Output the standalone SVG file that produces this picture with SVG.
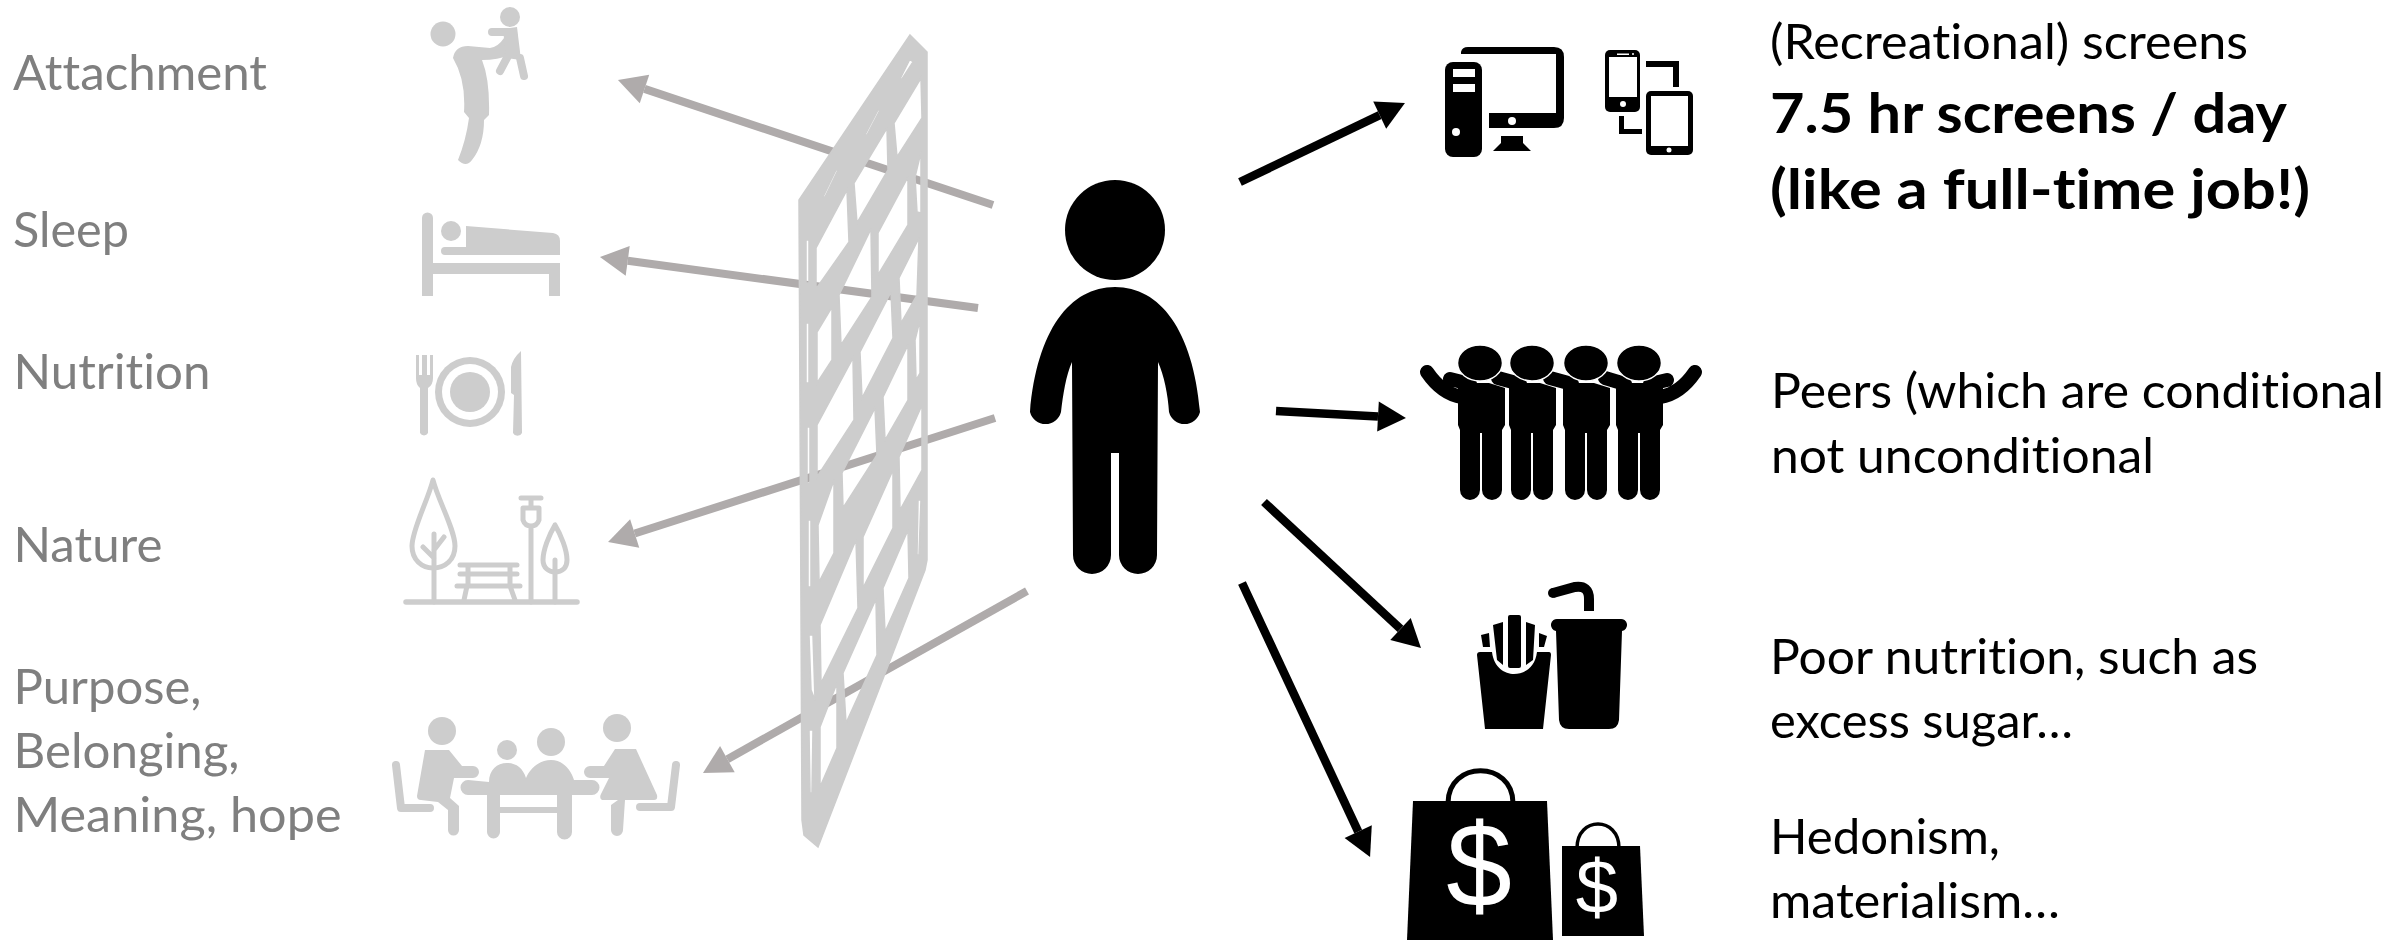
<svg xmlns="http://www.w3.org/2000/svg" xmlns:xlink="http://www.w3.org/1999/xlink" width="2402" height="940" viewBox="0 0 2402 940">
<style>
text{font-family:Lato,"Noto Sans",sans-serif;font-size:47.5px;font-variant-ligatures:none}
.l{fill:#7f7f7f}
.r{fill:#000}
.b{font-weight:700;font-size:54.5px}
.g{fill:#cdcdcd;stroke:none}
.gs{fill:none;stroke:#cdcdcd;stroke-linecap:round;stroke-linejoin:round}
.k{fill:#000;stroke:none}
.w{fill:#fff;stroke:none}
.ga{stroke:#afabab;stroke-width:8;fill:none}
.ba{stroke:#000;stroke-width:8.5;fill:none}
.d{fill:#fff;font-weight:400}
</style>
<defs>
<marker id="ah" markerUnits="userSpaceOnUse" markerWidth="30" markerHeight="32" refX="0" refY="16" orient="auto" overflow="visible"><path d="M0,1L28,16L0,31z" fill="#afabab"/></marker>
<marker id="ak" markerUnits="userSpaceOnUse" markerWidth="30" markerHeight="32" refX="0" refY="16" orient="auto" overflow="visible"><path d="M0,1L28,16L0,31z" fill="#000"/></marker>
<g id="peer">
<path d="M-23,386L-8,383L8,383L24,388L24,425L21,430L21,490A10,10 0 0 1 1,490L1,433L-1,433L-1,490A10,10 0 0 1 -21,490L-21,430L-23,425z"/>
</g>
</defs>
<g id="connectors">
<line class="ga" x1="993" y1="205" x2="644.500" y2="88.900" marker-end="url(#ah)"/>
<line class="ga" x1="978" y1="308" x2="627.700" y2="260.800" marker-end="url(#ah)"/>
<line class="ga" x1="995" y1="418" x2="634.700" y2="533.500" marker-end="url(#ah)"/>
<line class="ga" x1="1027" y1="591" x2="727.400" y2="759.200" marker-end="url(#ah)"/>
<line class="ba" x1="1240" y1="182" x2="1379.700" y2="115.100" marker-end="url(#ak)"/>
<line class="ba" x1="1276" y1="411" x2="1378" y2="416.500" marker-end="url(#ak)"/>
<line class="ba" x1="1264" y1="502" x2="1400.500" y2="628.900" marker-end="url(#ak)"/>
<line class="ba" x1="1242" y1="583" x2="1358.200" y2="831.600" marker-end="url(#ak)"/>
</g>
<g id="wall">
<path fill="#cdcdcd" stroke="#cdcdcd" stroke-width="1.500" fill-rule="evenodd" d="M910,35L927,52L927,560L925,570L818,847L804,835L802,820L799,200z
M910,59L913,62L902,79L900,79z
M921,78L922,118L897,157L894,123z
M865,135L867,135L880,110L878,110z
M823,197L825,197L838,170L836,170z
M887,128L888,170L857,223L854,183z
M921,152L921,213L917,212L915,177z
M908,177L908,225L878,275L878,233z
M847,190L849,242L816,289L816,248z
M871,229L872,297L841,345L839,295z
M919,238L917,295L901,323L899,278z
M806,240L809,240L809,283L806,283z
M920,320L920,373L916,380L915,340z
M891,292L893,338L862,398L860,352z
M908,345L908,400L885,440L883,397z
M806,323L809,323L809,383L806,383z
M817,332L832,307L832,360L817,383z
M853,358L854,420L817,477L817,425z
M875,408L877,455L843,508L842,473z
M922,405L922,470L900,510L899,457z
M807,427L810,427L810,483L807,483z
M834,480L834,553L819,582L818,525z
M918,500L921,500L919,555L917,555z
M893,470L893,528L863,588L863,537z
M808,520L811,520L811,587L808,587z
M908,530L909,578L885,632L883,588z
M856,540L858,608L821,683L820,625z
M876,599L877,655L846,723L843,673z
M809,635L813,635L815,700L811,690z
M837,683L837,748L820,787L820,727z
M809,730L813,730L812,793L810,793z"/>
</g>
<g id="person">
<circle class="k" cx="1115" cy="230" r="50"/>
<path class="k" d="M1115,287C1070,287 1037,330 1030,412A16,16 0 0 0 1061,412C1063,395 1066,375 1072,362L1073,555A19,19 0 0 0 1111,555L1111,453L1119,453L1119,555A19,19 0 0 0 1157,555L1158,362C1164,375 1168,395 1169,412A16,16 0 0 0 1200,412C1193,330 1160,287 1115,287z"/>
</g>
<g id="attachment">
<text class="l" x="13" y="89.500" textLength="254" lengthAdjust="spacingAndGlyphs">Attachment</text>
<circle class="g" cx="443" cy="34" r="12.500"/>
<circle class="g" cx="510" cy="17" r="10"/>
<path class="g" d="M453,58Q455,46 468,46L490,48Q498,47 504,38L512,47L510,55Q498,60 482,60Q490,80 489,115L484,120Q484,145 472,160Q466,168 458,160Q466,140 469,118L464,112Q466,80 453,58z"/>
<path class="g" d="M503,29L517,27L521,60L506,58z"/>
<path class="gs" stroke-width="8" d="M492,32L512,32M508,56L500,71M520,58L524,76"/>
</g>
<g id="sleep">
<text class="l" x="13" y="247" textLength="116" lengthAdjust="spacingAndGlyphs">Sleep</text>
<path class="g" d="M422,218A5.500,5.500 0 0 1 433,218L433,263L549,263L560,263L560,296L549,296L549,274L433,274L433,296L422,296z"/>
<circle class="g" cx="451" cy="231" r="10"/>
<path class="g" d="M466,226L553,233Q560,234 560,241L560,255L445,255A4,4 0 0 1 445,247L466,247z"/>
</g>
<g id="nutrition">
<text class="l" x="13.500" y="388.500" textLength="197" lengthAdjust="spacingAndGlyphs">Nutrition</text>
<path class="g" d="M416,355L419,355L419,375L422,375L422,355L427,355L427,375L430,375L430,355L433,355L433,378Q433,385 428,388L428,433A4.500,4.500 0 0 1 420,433L420,388Q416,385 416,378z"/>
<circle class="g" cx="470" cy="392" r="35"/>
<circle class="w" cx="470" cy="392" r="28"/>
<circle class="g" cx="470" cy="392" r="20"/>
<path class="g" d="M521,351L522,433A5,5 0 0 1 513,433L514,395L511,393L511,367Q513,358 521,351z"/>
</g>
<g id="nature">
<text class="l" x="13.500" y="562" textLength="149" lengthAdjust="spacingAndGlyphs">Nature</text>
<path class="gs" stroke-width="5" d="M433,480C428,500 412,530 412,546C412,560 422,568 433,568C445,568 455,560 455,546C455,530 438,500 433,480z"/>
<path class="gs" stroke-width="5" d="M555,525C549,535 543,550 543,560C543,568 549,572 555,572C562,572 567,568 567,560C567,550 561,535 555,525z"/>
<path class="gs" stroke-width="5" d="M434,534L434,602M444,537L434,550M423,547L434,558M555,560L555,602M531,528L531,602M521,498L541,498M531,498L531,506M523,508L539,508L539,520Q537,526 531,526Q525,526 523,520z"/>
<path class="gs" stroke-width="5" d="M460,565L517,565M460,574L517,574M457,586L520,586M468,565L468,586M510,565L510,586M467,586L464,600M510,586L515,600"/>
<path class="gs" stroke-width="5.500" d="M406,602L577,602"/>
</g>
<g id="belonging">
<text class="l" x="13.500" y="704" textLength="188" lengthAdjust="spacingAndGlyphs">Purpose,</text>
<text class="l" x="13.500" y="768" textLength="226" lengthAdjust="spacingAndGlyphs">Belonging,</text>
<text class="l" x="13.500" y="832" textLength="328" lengthAdjust="spacingAndGlyphs">Meaning, hope</text>
<circle class="g" cx="442" cy="731" r="14"/>
<circle class="g" cx="507" cy="750" r="10"/>
<circle class="g" cx="551" cy="742" r="14"/>
<circle class="g" cx="617" cy="728" r="14"/>
<path class="g" d="M425,750L449,750L462,766L473,766A6,6 0 0 1 473,778L454,778L450,798L459,806L459,830A5.500,5.500 0 0 1 448,830L448,810L438,802L421,800Q417,800 417,796z"/>
<path class="g" d="M615,749L636,749L657,795Q658,800 654,800L625,800L623,830A6,6 0 0 1 611,830L611,805L618,800L602,800Q599,798 601,794L609,778L590,778A6,6 0 0 1 590,766L604,766z"/>
<path class="g" d="M489,782C489,770 497,763 507,763C516,763 523,768 526,778C530,768 540,760 551,760C563,760 571,770 574,780L592,780A7,7 0 0 1 592,795L572,795L572,832A6,6 0 0 1 557,832L557,813L500,813L500,832A6,6 0 0 1 487,832L487,795L468,795A7,7 0 0 1 468,780z M500,795L500,807L557,807L557,795z" fill-rule="evenodd"/>
<path class="gs" stroke-width="8" d="M396,765L401,808L430,808M676,765L671,807L640,807"/>
</g>
<g id="screens">
<text class="r" x="1770" y="58.500" textLength="478" lengthAdjust="spacingAndGlyphs">(Recreational) screens</text>
<text class="r b" x="1770" y="132.500" textLength="517" lengthAdjust="spacingAndGlyphs">7.5 hr screens / day</text>
<text class="r b" x="1770" y="208.500" textLength="540" lengthAdjust="spacingAndGlyphs">(like a full-time job!)</text>
<rect class="k" x="1445" y="62" width="37" height="95" rx="8"/>
<rect class="w" x="1453" y="69" width="22" height="8"/>
<rect class="w" x="1453" y="84" width="22" height="8"/>
<circle class="w" cx="1456" cy="132" r="4"/>
<path class="k" d="M1461,52Q1462,47 1468,47L1554,47Q1564,47 1564,57L1564,118Q1564,128 1554,128L1489,128L1489,113L1556,113L1556,54L1461,54z"/>
<circle class="w" cx="1512" cy="121" r="4"/>
<path class="k" d="M1501,136L1523,136L1523,143L1531,151L1493,151L1501,143z"/>
<rect class="k" x="1605" y="50" width="35" height="62" rx="5"/>
<rect class="w" x="1609" y="57" width="28" height="40"/>
<rect class="w" x="1617" y="53.500" width="12" height="1.500"/>
<circle class="w" cx="1633" cy="54" r="1"/>
<circle class="w" cx="1623" cy="104" r="3"/>
<rect class="k" x="1646" y="91" width="47" height="64" rx="5"/>
<rect class="w" x="1651" y="96" width="37" height="50"/>
<circle class="w" cx="1669" cy="150" r="2.500"/>
<path class="k" d="M1646,61L1679,61L1679,87L1673,87L1673,67L1646,67zM1619,116L1624,116L1624,129L1642,129L1642,134L1619,134z"/>
</g>
<g id="peers">
<text class="r" x="1771" y="408" textLength="613" lengthAdjust="spacingAndGlyphs">Peers (which are conditional</text>
<text class="r" x="1771" y="473" textLength="383" lengthAdjust="spacingAndGlyphs">not unconditional</text>
<path fill="none" stroke="#000" stroke-width="14" stroke-linecap="round" d="M1427,372Q1442,394 1462,397M1695,372Q1680,394 1660,397M1450,379L1470,384M1498,378L1520,384M1550,378L1572,384M1605,378L1625,384M1667,380L1650,384"/>
<use xlink:href="#peer" href="#peer" transform="translate(1481,0)"/>
<use xlink:href="#peer" href="#peer" transform="translate(1532,0)"/>
<use xlink:href="#peer" href="#peer" transform="translate(1586,0)"/>
<use xlink:href="#peer" href="#peer" transform="translate(1639,0)"/>
<g fill="#000" stroke="#fff" stroke-width="1.500">
<ellipse cx="1480" cy="363" rx="22.500" ry="18"/>
<ellipse cx="1532" cy="363" rx="22.500" ry="18"/>
<ellipse cx="1586" cy="363" rx="22.500" ry="18"/>
<ellipse cx="1639" cy="363" rx="22.500" ry="18"/>
</g>
</g>
<g id="food">
<text class="r" x="1770" y="674" textLength="488" lengthAdjust="spacingAndGlyphs">Poor nutrition, such as</text>
<text class="r" x="1770" y="738" textLength="303" lengthAdjust="spacingAndGlyphs">excess sugar…</text>
<path class="k" d="M1477,655Q1477,652 1480,652L1492,652C1494,668 1505,674 1514,674C1524,674 1535,668 1537,652L1549,652Q1551,652 1551,655L1543,729L1485,729z"/>
<rect class="k" x="1508" y="615" width="13" height="53" rx="2"/>
<path class="k" d="M1493,625L1503,622L1503,665L1497,660zM1526,622L1535,625L1533,660L1526,665zM1481,635L1489,633L1490,647L1483,647zM1539,633L1547,636L1544,647L1539,647z"/>
<path class="k" d="M1558,619L1620,619A6,6 0 0 1 1622,631L1619,720Q1618,729 1609,729L1569,729Q1560,729 1559,720L1556,631A6,6 0 0 1 1558,619z"/>
<path fill="none" stroke="#000" stroke-width="10" d="M1553,593L1575,587Q1589,585 1589,599L1589,611"/>
<circle class="k" cx="1553" cy="593" r="5"/>
</g>
<g id="hedonism">
<text class="r" x="1770" y="854" textLength="230" lengthAdjust="spacingAndGlyphs">Hedonism,</text>
<text class="r" x="1770" y="918" textLength="290" lengthAdjust="spacingAndGlyphs">materialism…</text>
<path fill="none" stroke="#000" stroke-width="5" d="M1448,803C1448,760 1513,760 1513,803"/>
<path class="k" d="M1413,801L1547,801L1553,940L1407,940z"/>
<text class="d" x="1479" y="906" text-anchor="middle" style="font-size:118px;font-family:'Liberation Sans',sans-serif">$</text>
<path fill="none" stroke="#000" stroke-width="3.500" d="M1577,848C1577,816 1619,816 1619,848"/>
<path class="k" d="M1562,846L1640,846L1644,936L1562,936z"/>
<text class="d" x="1597" y="913" text-anchor="middle" style="font-size:76px;font-family:'Liberation Sans',sans-serif">$</text>
</g>
</svg>
